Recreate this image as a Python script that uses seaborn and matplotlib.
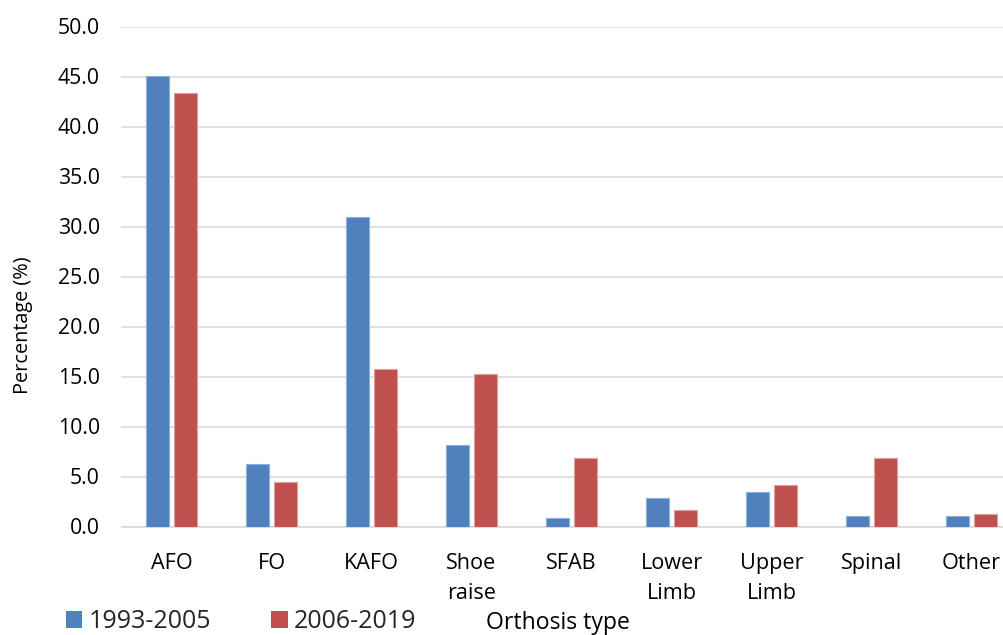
import matplotlib
matplotlib.use("Agg")
import matplotlib.pyplot as plt
from matplotlib.patches import Patch
import pandas as pd
import seaborn as sns

# Orthosis types and share of prescriptions (%) for each period
categories = ["AFO", "FO", "KAFO", "Shoe\nraise", "SFAB",
              "Lower\nLimb", "Upper\nLimb", "Spinal", "Other"]
periods = ["1993-2005", "2006-2019"]
pct_1993_2005 = [45.1, 6.3, 31.0, 8.2, 0.9, 2.9, 3.5, 1.1, 1.1]
pct_2006_2019 = [43.4, 4.5, 15.8, 15.3, 6.9, 1.7, 4.2, 6.9, 1.3]
y_ticks = [0, 5, 10, 15, 20, 25, 30, 35, 40, 45, 50]

colors = ["#4F81BD", "#C0504D"]
edge_colors = ["#8DB0DC", "#E0A09E"]

df = pd.DataFrame({
    "Orthosis": categories * 2,
    "Period": [periods[0]] * len(categories) + [periods[1]] * len(categories),
    "Percentage": pct_1993_2005 + pct_2006_2019,
})

sns.set_theme(style="white")
plt.rcParams["font.family"] = ["Open Sans", "DejaVu Sans"]

W, H = 1004, 635
fig = plt.figure(figsize=(W / 100, H / 100), dpi=100)
# plot area runs past the right edge of the canvas
ax = fig.add_axes([121.5 / W, 108.5 / H, 900 / W, 500 / H])

sns.barplot(data=df, x="Orthosis", y="Percentage", hue="Period",
            order=categories, hue_order=periods, palette=colors,
            saturation=1, width=0.568, gap=0.2, legend=False, ax=ax,
            zorder=3)

# light outline on each bar, tinted per series
n = len(categories)
for i, patch in enumerate(ax.patches[:2 * n]):
    patch.set_edgecolor(edge_colors[i // n])
    patch.set_linewidth(0.8)

ax.set_xlim(-0.5, len(categories) - 0.5)
ax.set_ylim(0, 50)
ax.set_yticks(y_ticks)
ax.set_yticklabels([f"{v:.1f}" for v in y_ticks])
ax.yaxis.grid(True, color="#D9D9D9", linewidth=1.1, zorder=0)
ax.set_axisbelow(True)

for side in ["top", "right", "left"]:
    ax.spines[side].set_visible(False)
ax.spines["bottom"].set_color("#D9D9D9")
ax.spines["bottom"].set_linewidth(1.3)

ax.tick_params(axis="y", length=0, pad=15.5, labelsize=15.3, labelcolor="#000000")
ax.tick_params(axis="x", length=0, pad=19, labelsize=15.6, labelcolor="#000000")
for lbl in ax.get_xticklabels():
    lbl.set_linespacing(1.55)

ax.set_xlabel("")
ax.set_ylabel("")

fig.text(23 / W, 1 - 325 / H, "Percentage (%)", rotation=90,
         ha="center", va="center", fontsize=14.3, color="#000000")
fig.text(557.5 / W, 1 - 629 / H, "Orthosis type", ha="center",
         va="baseline", fontsize=16.6, color="#000000")

handles = [Patch(facecolor=c, edgecolor="none") for c in colors]
fig.legend(handles, periods, loc="lower left",
           bbox_to_anchor=(66 / W, 1 / H), ncol=2, frameon=False,
           fontsize=18, handlelength=0.66, handleheight=0.66,
           handletextpad=0.25, columnspacing=2.4, borderaxespad=0,
           borderpad=0)

fig.savefig("out.png", dpi=100)
